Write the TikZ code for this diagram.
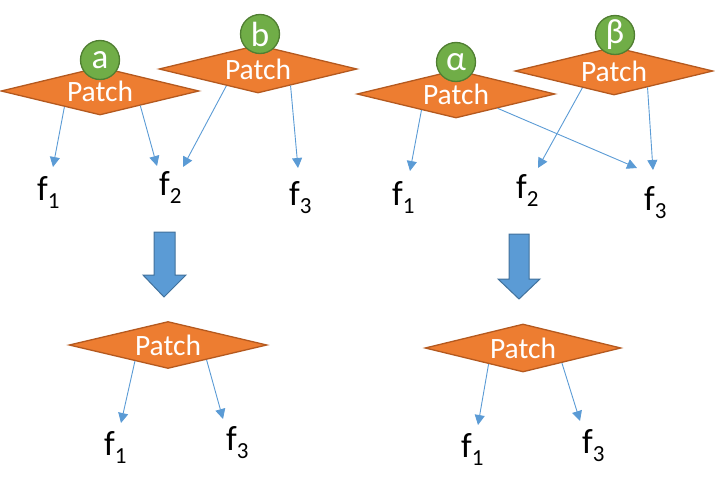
\documentclass[tikz,border=0pt]{standalone}
\usepackage{fontspec}
\setmainfont{Carlito}
\usetikzlibrary{shapes.geometric,arrows.meta}
\definecolor{porange}{HTML}{ED7D31}
\definecolor{porangeD}{HTML}{B4591F}
\definecolor{pgreen}{HTML}{70AD47}
\definecolor{pgreenD}{HTML}{507E32}
\definecolor{pblue}{HTML}{5B9BD5}
\definecolor{pblueD}{HTML}{41719C}
\newcommand{\fsub}[1]{f\raisebox{-8pt}{\fontsize{23}{23}\selectfont #1}}
\tikzset{
  patchbox/.style={diamond, aspect=4.1, inner sep=0pt, minimum width=198pt, minimum height=48pt,
    fill=porange, draw=porangeD, line width=1.3pt, text=white, font=\fontsize{29.5}{31}\selectfont},
  badge/.style={circle, inner sep=0pt, minimum size=39pt, fill=pgreen, draw=pgreenD, line width=1.3pt,
    text=white, font=\fontsize{35}{36}\selectfont},
  flabel/.style={anchor=base west, inner sep=0pt, font=\fontsize{35}{38}\selectfont},
  link/.style={draw=pblue, line width=0.9pt, -{Triangle[length=10pt,width=10pt]}},
  bigarrow/.style={fill=pblue, draw=pblueD, line width=1pt, line join=miter}
}
\begin{document}
\begin{tikzpicture}[x=1pt,y=1pt]
\useasboundingbox (0,0) rectangle (715,-490);
% ---- top left ----
\node[patchbox] (pa) at (100,-91) {Patch};
\node[badge] (ca) at (100,-60) {a};
\node[patchbox] (pb) at (258,-69) {Patch};
\node[badge] (cb) at (260,-34) {b};
\node[flabel] (f1a) at (37,-200) {\fsub{1}};
\node[flabel] (f2a) at (159,-195) {\fsub{2}};
\node[flabel] (f3a) at (289,-205) {\fsub{3}};
\coordinate (ta1) at (53,-167);
\coordinate (ta2) at (157,-166);
\coordinate (ta3) at (183,-167);
\coordinate (ta4) at (298,-168);
\draw[link] (pa.204.7) -- (ta1);
\draw[link] (pa.340.3) -- (ta2);
\draw[link] (pb.208) -- (ta3);
\draw[link] (pb.333.4) -- (ta4);
% ---- top right ----
\node[patchbox] (pal) at (456,-94) {Patch};
\node[badge] (cal) at (456,-62) {α};
\node[patchbox] (pbe) at (614,-71) {Patch};
\node[badge] (cbe) at (615,-35) {β};
\node[flabel] (f1b) at (392,-205) {\fsub{1}};
\node[flabel] (f2b) at (516,-198) {\fsub{2}};
\node[flabel] (f3b) at (644,-210) {\fsub{3}};
\coordinate (tb1) at (410,-171);
\coordinate (tb2) at (637,-168);
\coordinate (tb3) at (538,-168);
\coordinate (tb4) at (653,-170);
\draw[link] (pal.205.9) -- (tb1);
\draw[link] (pal.341.6) -- (tb2);
\draw[link] (pbe.208) -- (tb3);
\draw[link] (pbe.334.8) -- (tb4);
% ---- big arrows ----
\draw[bigarrow] (154,-232) -- (175,-232) -- (175,-275) -- (186,-275) -- (164,-297) -- (143,-275) -- (154,-275) -- cycle;
\draw[bigarrow] (509,-234) -- (529,-234) -- (529,-279) -- (540,-279) -- (519,-299) -- (498,-279) -- (509,-279) -- cycle;
% ---- bottom left ----
\node[patchbox, minimum height=47pt] (pc) at (168,-345) {Patch};
\node[flabel] (f1c) at (104,-455) {\fsub{1}};
\node[flabel] (f3c) at (226,-450) {\fsub{3}};
\coordinate (tc1) at (121,-423);
\coordinate (tc2) at (223,-419);
\draw[link] (pc.206.6) -- (tc1);
\draw[link] (pc.339.4) -- (tc2);
% ---- bottom right ----
\node[patchbox, minimum width=196pt] (pd) at (523,-348) {Patch};
\node[flabel] (f1d) at (461,-457) {\fsub{1}};
\node[flabel] (f3d) at (582,-453) {\fsub{3}};
\coordinate (td1) at (478,-425);
\coordinate (td2) at (580,-421);
\draw[link] (pd.205.3) -- (td1);
\draw[link] (pd.339.9) -- (td2);
\end{tikzpicture}
\end{document}
